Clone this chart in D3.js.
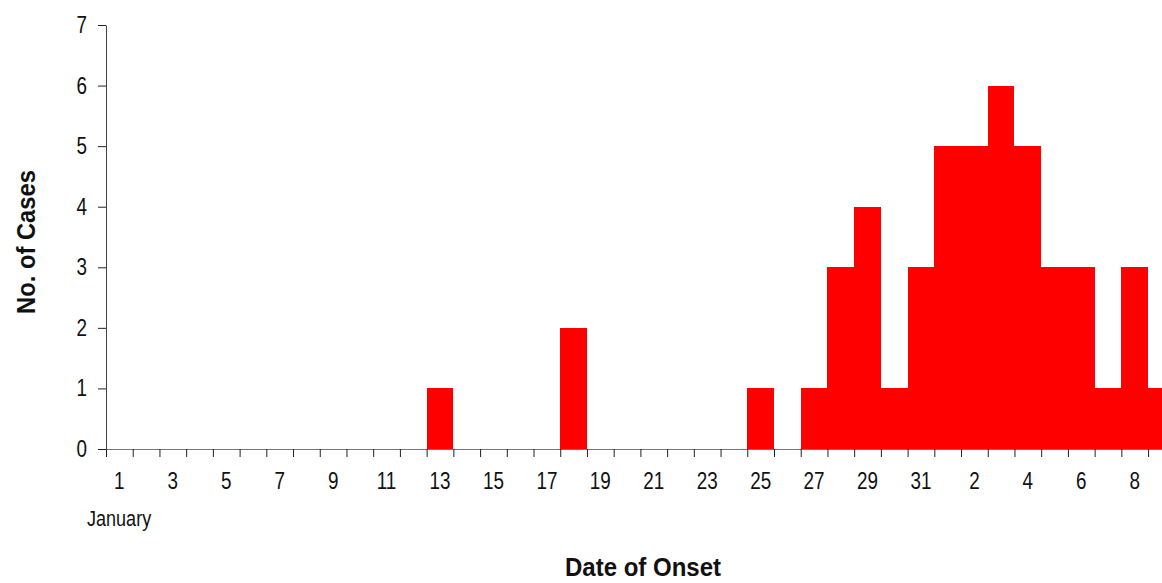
<!DOCTYPE html>
<html>
<head>
<meta charset="utf-8">
<script src="https://cdn.jsdelivr.net/npm/d3@7"></script>
<style>
  html, body { margin: 0; padding: 0; background: #fff; }
  svg { display: block; }
  text { font-family: "Liberation Sans", Arial, sans-serif; fill: #111; }
</style>
</head>
<body>
<div id="chart"></div>
<script>
// day labels, Jan 1 .. Feb 9
const dayLabels = [
  '1','2','3','4','5','6','7','8','9','10','11','12','13','14','15','16',
  '17','18','19','20','21','22','23','24','25','26','27','28','29','30','31',
  '1','2','3','4','5','6','7','8','9'
];
// cases per day
const cases = [
  0,0,0,0,0,0,0,0,0,0,0,0,1,0,0,0,
  0,2,0,0,0,0,0,0,1,0,1,3,4,1,3,
  5,5,6,5,3,3,1,3,1
];
const yTicks = [0, 1, 2, 3, 4, 5, 6, 7];

const W = 1162, H = 583;
const x0 = 106, dayW = 26.72;
const narrow = 0.82; // fake a condensed face

const svg = d3.select('#chart').append('svg')
  .attr('width', W).attr('height', H);

const x = d3.scaleLinear().domain([0, dayLabels.length]).range([x0, x0 + dayLabels.length * dayW]);
const y = d3.scaleLinear().domain([0, 7]).range([449, 25]);

function label(px, py, str, size, anchor, sx, extra) {
  return svg.append('text')
    .attr('transform', `translate(${px},${py})${extra || ''} scale(${sx},1)`)
    .attr('text-anchor', anchor)
    .attr('font-size', size)
    .text(str);
}

// bars
svg.selectAll('.bar')
  .data(cases.map((v, i) => ({ i, v })).filter(d => d.v > 0))
  .enter().append('rect')
  .attr('class', 'bar')
  .attr('x', d => x(d.i))
  .attr('width', d => x(d.i + 1) - x(d.i))
  .attr('y', d => y(d.v))
  .attr('height', d => y(0) - y(d.v))
  .attr('fill', '#ff0000')
  .attr('shape-rendering', 'crispEdges');

// x axis: ticks at day boundaries
svg.append('g')
  .attr('transform', `translate(0,${y(0)})`)
  .call(d3.axisBottom(x).tickValues(d3.range(0, dayLabels.length + 1)).tickFormat('').tickSize(8).tickSizeOuter(0))
  .call(g => g.select('.domain').attr('stroke', '#777'))
  .call(g => g.selectAll('line').attr('stroke', '#222'));

// x labels on odd days, centred on the day
dayLabels.forEach((t, i) => {
  if (i % 2 === 0) label(x(i + 0.5), 489, t, 23, 'middle', narrow);
});
label(87, 526, 'January', 22, 'start', narrow);

// y axis
svg.append('g')
  .attr('transform', `translate(${x0},0)`)
  .call(d3.axisLeft(y).tickValues(yTicks).tickSize(8).tickSizeOuter(0).tickFormat(''))
  .call(g => g.select('.domain').attr('stroke', '#444'))
  .call(g => g.selectAll('line').attr('stroke', '#222'));

yTicks.forEach(v => label(87, y(v) + 8, String(v), 23, 'end', narrow));

// axis titles
label(35, 242, 'No. of Cases', 25, 'middle', 0.95, ' rotate(-90)').attr('font-weight', 'bold');
label(643, 576, 'Date of Onset', 25, 'middle', 0.96).attr('font-weight', 'bold');
</script>
</body>
</html>
